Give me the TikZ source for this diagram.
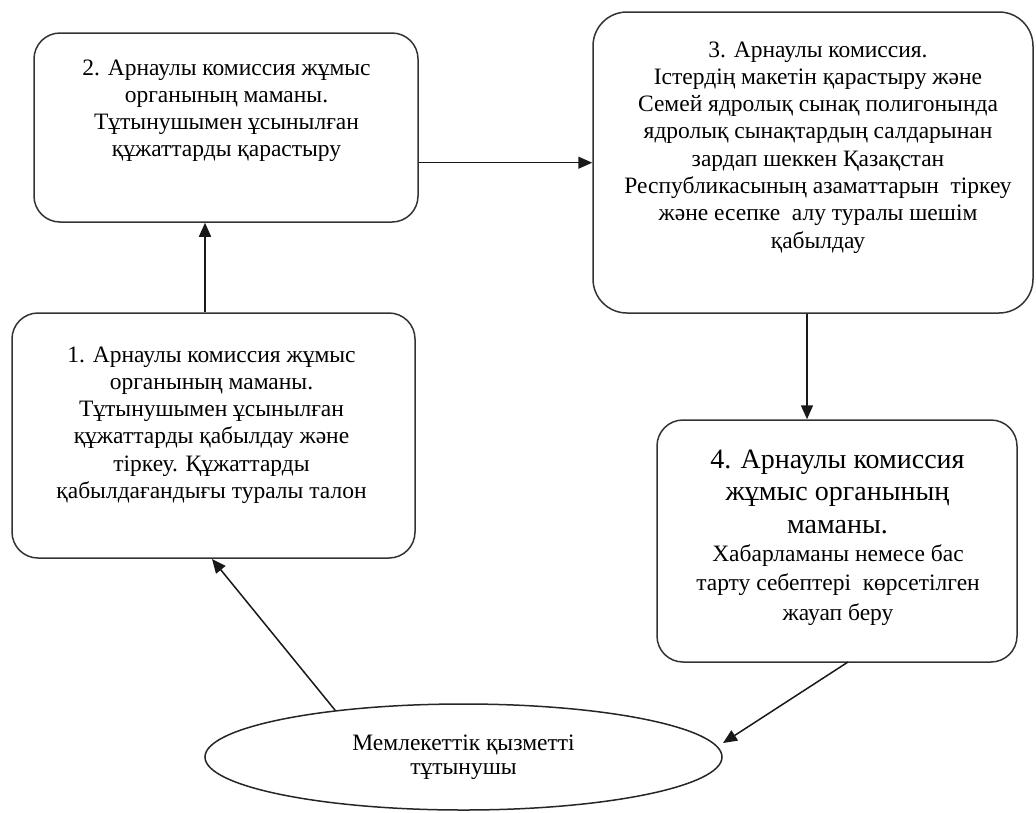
\documentclass[tikz,border=0pt]{standalone}
\usepackage{fontspec}
\setmainfont{Liberation Serif}
\usetikzlibrary{arrows.meta,shapes.geometric}
\tikzset{
  box/.style={draw=black!80, line width=1.5pt, rounded corners=26pt, inner sep=0pt},
  txt/.style={anchor=north, align=center, inner sep=0pt, font=\fontsize{23.5}{27.3}\selectfont},
  arr/.style={draw=black!90, line width=1.5pt, -{Triangle[length=14pt,width=12pt]}},
}
\begin{document}
\begin{tikzpicture}[x=1pt,y=-1pt]
\useasboundingbox (0,0) rectangle (1036,812);
% boxes
\node[box, minimum width=384pt, minimum height=189pt] (b2) at (226,127.5) {};
\node[box, rounded corners=34pt, minimum width=440pt, minimum height=301pt] (b3) at (813,162.5) {};
\node[box, minimum width=403pt, minimum height=245pt] (b1) at (213.5,435.5) {};
\node[box, minimum width=360pt, minimum height=242pt] (b4) at (837,541) {};
\node[draw=black!85, line width=1.5pt, ellipse, minimum width=517pt, minimum height=106pt, inner sep=0pt] (ell) at (463.5,757) {};
% texts
\node[txt] (t2) at (226.5,59.3) {2. Арнаулы комиссия жұмыс\\органының маманы.\\Тұтынушымен ұсынылған\\құжаттарды қарастыру};
\node[txt] (t3) at (818,41.3) {3. Арнаулы комиссия.\\Істердің макетін қарастыру және\\Семей ядролық сынақ полигонында\\ядролық сынақтардың салдарынан\\зардап шеккен Қазақстан\\Республикасының азаматтарын\ \ тіркеу\\және есепке\ \ алу туралы шешім\\қабылдау};
\node[txt] (t1) at (211.5,346.3) {1. Арнаулы комиссия жұмыс\\органының маманы.\\Тұтынушымен ұсынылған\\құжаттарды қабылдау және\\тіркеу. Құжаттарды\\қабылдағандығы туралы талон};
\node[txt, font=\fontsize{28}{32.5}\selectfont] (t4a) at (837.5,449.6) {4. Арнаулы комиссия\\жұмыс органының\\маманы.};
\node[txt, font=\fontsize{23.5}{29.5}\selectfont] (t4b) at (838,544.3) {Хабарламаны немесе бас\\тарту себептері\ \ көрсетілген\\жауап беру};
\node[txt, font=\fontsize{23.5}{24.5}\selectfont] (te) at (463.5,734.3) {Мемлекеттік қызметті\\тұтынушы};
% connectors
\coordinate (xa) at (205,0);
\coordinate (yb) at (0,162.7);
\coordinate (xc) at (807,0);
\draw[arr] (xa |- b1.north) -- (xa |- b2.south);
\draw[arr] (b2.east |- yb) -- (b3.west |- yb);
\draw[arr] (xc |- b3.south) -- (xc |- b4.north);
\coordinate (s4) at (848,662);
\coordinate (e4) at (723,743);
\draw[arr] (s4) -- (e4);
\coordinate (e1) at (212,559);
\draw[arr] (ell.160) -- (e1);
\end{tikzpicture}
\end{document}
